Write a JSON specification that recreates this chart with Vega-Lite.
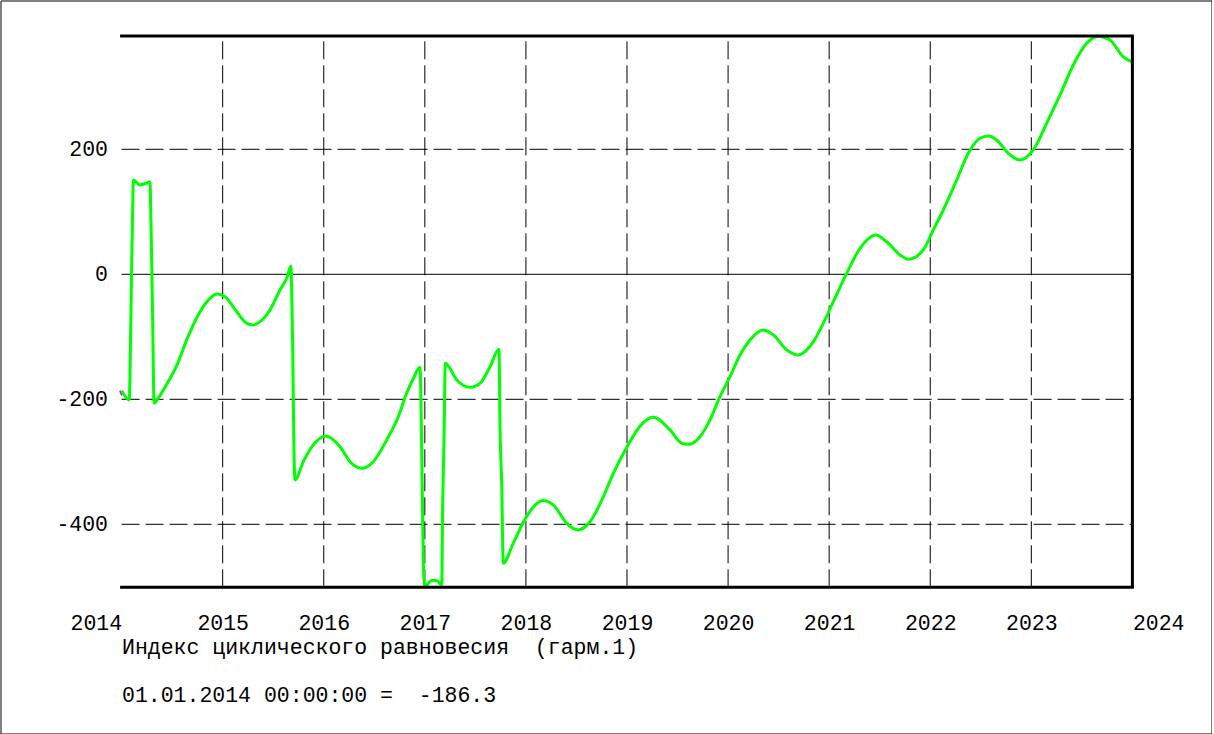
{
  "$schema": "https://vega.github.io/schema/vega-lite/v6.json",
  "width": 1211,
  "height": 733,
  "padding": 0.5,
  "autosize": {"type": "none"},
  "background": "white",
  "config": {
    "view": {"stroke": "black", "strokeWidth": 1},
    "axis": {
      "labelFont": "Liberation Mono",
      "labelFontSize": 21.5,
      "labelColor": "black",
      "titleFont": "Liberation Mono",
      "titleFontSize": 21.5,
      "titleFontWeight": "normal",
      "titleColor": "black",
      "grid": false,
      "domain": false,
      "ticks": false,
      "tickSize": 0,
      "labelPadding": 0
    }
  },
  "datasets": {
    "series": [
      {"t": 2014.0, "v": -186.3},
      {"t": 2014.0762, "v": -201},
      {"t": 2014.0831, "v": -159},
      {"t": 2014.0999, "v": 18},
      {"t": 2014.1098, "v": 106},
      {"t": 2014.1158, "v": 151},
      {"t": 2014.182, "v": 143},
      {"t": 2014.2315, "v": 145},
      {"t": 2014.281, "v": 148},
      {"t": 2014.2879, "v": 105},
      {"t": 2014.2978, "v": 18},
      {"t": 2014.3077, "v": -73},
      {"t": 2014.3205, "v": -206},
      {"t": 2014.3631, "v": -198},
      {"t": 2014.4462, "v": -176},
      {"t": 2014.5451, "v": -146},
      {"t": 2014.644, "v": -105},
      {"t": 2014.7756, "v": -60},
      {"t": 2014.8746, "v": -38.4},
      {"t": 2014.9408, "v": -31.5},
      {"t": 2015.0229, "v": -35.8},
      {"t": 2015.1387, "v": -60},
      {"t": 2015.2376, "v": -78.4},
      {"t": 2015.3029, "v": -81},
      {"t": 2015.3692, "v": -75.8},
      {"t": 2015.4682, "v": -57},
      {"t": 2015.5671, "v": -25},
      {"t": 2015.6334, "v": -6.4},
      {"t": 2015.6759, "v": 13.3},
      {"t": 2015.6828, "v": -27.8},
      {"t": 2015.6927, "v": -115.8},
      {"t": 2015.7056, "v": -285},
      {"t": 2015.7155, "v": -329},
      {"t": 2015.7976, "v": -299.8},
      {"t": 2015.8965, "v": -273},
      {"t": 2016.0222, "v": -258.7},
      {"t": 2016.1607, "v": -275.8},
      {"t": 2016.2596, "v": -299.8},
      {"t": 2016.3753, "v": -310.4},
      {"t": 2016.4901, "v": -299.8},
      {"t": 2016.6227, "v": -265},
      {"t": 2016.7374, "v": -228},
      {"t": 2016.8205, "v": -190},
      {"t": 2016.8829, "v": -168},
      {"t": 2016.9521, "v": -148.8},
      {"t": 2016.969, "v": -281},
      {"t": 2016.9848, "v": -457},
      {"t": 2016.9986, "v": -500},
      {"t": 2017.0679, "v": -490},
      {"t": 2017.1173, "v": -490},
      {"t": 2017.1668, "v": -497},
      {"t": 2017.1767, "v": -366},
      {"t": 2017.1896, "v": -265},
      {"t": 2017.2024, "v": -142.4},
      {"t": 2017.3152, "v": -169},
      {"t": 2017.4468, "v": -180.8},
      {"t": 2017.5457, "v": -174.4},
      {"t": 2017.6446, "v": -148},
      {"t": 2017.7337, "v": -120},
      {"t": 2017.7436, "v": -243.8},
      {"t": 2017.7604, "v": -334},
      {"t": 2017.7762, "v": -462.4},
      {"t": 2017.8751, "v": -430},
      {"t": 2017.9978, "v": -390},
      {"t": 2018.0701, "v": -373},
      {"t": 2018.169, "v": -362},
      {"t": 2018.2709, "v": -369},
      {"t": 2018.4034, "v": -398.4},
      {"t": 2018.5182, "v": -409},
      {"t": 2018.6339, "v": -396},
      {"t": 2018.7659, "v": -355.8},
      {"t": 2018.8648, "v": -318.4},
      {"t": 2018.997, "v": -277},
      {"t": 2019.1286, "v": -243},
      {"t": 2019.2602, "v": -228.8},
      {"t": 2019.4254, "v": -249},
      {"t": 2019.5412, "v": -270.4},
      {"t": 2019.6065, "v": -272},
      {"t": 2019.7222, "v": -259.8},
      {"t": 2019.8211, "v": -233},
      {"t": 2019.9201, "v": -195.8},
      {"t": 2020.019, "v": -163.8},
      {"t": 2020.1179, "v": -129},
      {"t": 2020.2169, "v": -105},
      {"t": 2020.3484, "v": -89},
      {"t": 2020.4474, "v": -97},
      {"t": 2020.5799, "v": -121},
      {"t": 2020.6888, "v": -129},
      {"t": 2020.8431, "v": -108},
      {"t": 2020.942, "v": -78.4},
      {"t": 2021.041, "v": -43.8},
      {"t": 2021.1735, "v": 1.6},
      {"t": 2021.3051, "v": 41.6},
      {"t": 2021.4634, "v": 62.9},
      {"t": 2021.5693, "v": 52},
      {"t": 2021.7008, "v": 31},
      {"t": 2021.783, "v": 24},
      {"t": 2021.9313, "v": 38.9},
      {"t": 2022.0144, "v": 65.6},
      {"t": 2022.1292, "v": 102.9},
      {"t": 2022.2618, "v": 150.9},
      {"t": 2022.3766, "v": 193.6},
      {"t": 2022.4923, "v": 217.6},
      {"t": 2022.5744, "v": 221.3},
      {"t": 2022.6575, "v": 214.9},
      {"t": 2022.7723, "v": 193.6},
      {"t": 2022.888, "v": 182.9},
      {"t": 2023.0196, "v": 198.9},
      {"t": 2023.1522, "v": 241.6},
      {"t": 2023.2837, "v": 286.9},
      {"t": 2023.4153, "v": 334.9},
      {"t": 2023.5479, "v": 369.6},
      {"t": 2023.6626, "v": 381},
      {"t": 2023.7784, "v": 374.9},
      {"t": 2023.91, "v": 348},
      {"t": 2023.9931, "v": 340}
    ],
    "start": [
      {"t": 2013.984, "v": -186},
      {"t": 2014.004, "v": -193.7}
    ],
    "vgrid": [
      {"t": 2015}, {"t": 2016}, {"t": 2017}, {"t": 2018}, {"t": 2019},
      {"t": 2020}, {"t": 2021}, {"t": 2022}, {"t": 2023}
    ],
    "hgrid": [
      {"v": -400}, {"v": -200}, {"v": 200}
    ]
  },
  "layer": [
    {
      "data": {"name": "vgrid"},
      "mark": {"type": "rule", "stroke": "black", "strokeWidth": 1, "strokeDash": [18, 6]},
      "encoding": {
        "x": {
          "field": "t",
          "type": "quantitative",
          "scale": {"domain": [2012.8019, 2024.7826], "nice": false, "zero": false},
          "axis": {
            "orient": "bottom",
            "offset": -104.5,
            "values": [2014, 2015, 2016, 2017, 2018, 2019, 2020, 2021, 2022, 2023, 2024],
            "format": "d",
            "labelAlign": {"expr": "datum.value <= 2014 ? 'right' : (datum.value >= 2024 ? 'left' : 'center')"},
            "labelBaseline": "alphabetic",
            "labelOverlap": false,
            "labelBound": false,
            "labelFlush": false,
            "title": ["Индекс циклического равновесия\u00a0\u00a0(гарм.1)", "01.01.2014 00:00:00 =\u00a0\u00a0-186.3"],
            "titleLineHeight": 48,
            "titleX": 121,
            "titleY": 7,
            "titleAlign": "left",
            "titleAnchor": "start",
            "titleBaseline": "top"
          }
        },
        "y": {"datum": -500.8, "type": "quantitative",
          "scale": {"domain": [-734.72, 438.08], "nice": false, "zero": false},
          "axis": {
            "orient": "left",
            "offset": -107,
            "values": [-400, -200, 0, 200],
            "labelExpr": "'' + datum.value",
            "labelAlign": "right",
            "labelBaseline": "middle",
            "title": null
          }
        },
        "y2": {"datum": 381.3}
      }
    },
    {
      "data": {"name": "hgrid"},
      "mark": {"type": "rule", "stroke": "black", "strokeWidth": 1, "strokeDash": [18, 6]},
      "encoding": {
        "y": {"field": "v", "type": "quantitative"},
        "x": {"datum": 2014},
        "x2": {"datum": 2024}
      }
    },
    {
      "data": {"values": [{"v": 0}]},
      "mark": {"type": "rule", "stroke": "black", "strokeWidth": 1},
      "encoding": {
        "y": {"field": "v", "type": "quantitative"},
        "x": {"datum": 2014},
        "x2": {"datum": 2024}
      }
    },
    {
      "data": {"name": "start"},
      "mark": {"type": "line", "stroke": "#ff00ff", "strokeWidth": 2},
      "encoding": {
        "x": {"field": "t", "type": "quantitative"},
        "y": {"field": "v", "type": "quantitative"}
      }
    },
    {
      "data": {"name": "series"},
      "mark": {"type": "line", "stroke": "#00ff00", "strokeWidth": 3, "interpolate": "monotone"},
      "encoding": {
        "x": {"field": "t", "type": "quantitative"},
        "y": {"field": "v", "type": "quantitative"}
      }
    },
    {
      "data": {"values": [{"v": 381.3}, {"v": -500.8}]},
      "mark": {"type": "rule", "stroke": "black", "strokeWidth": 3, "strokeCap": "square"},
      "encoding": {
        "y": {"field": "v", "type": "quantitative"},
        "x": {"datum": 2014},
        "x2": {"datum": 2024}
      }
    },
    {
      "data": {"values": [{"t": 2024}]},
      "mark": {"type": "rule", "stroke": "black", "strokeWidth": 3},
      "encoding": {
        "x": {"field": "t", "type": "quantitative"},
        "y": {"datum": -500.8},
        "y2": {"datum": 381.3}
      }
    }
  ]
}
